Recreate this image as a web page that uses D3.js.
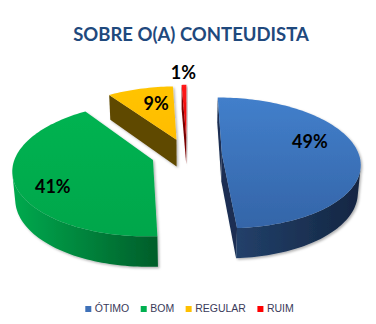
<!DOCTYPE html>
<html><head><meta charset="utf-8">
<script src="https://cdn.jsdelivr.net/npm/d3@7"></script>
<style>html,body{margin:0;padding:0;background:#fff;} svg{display:block}</style>
</head><body><svg id="c" width="376" height="324"></svg>
<script>
// ---- data ----
const categories = ["ÓTIMO", "BOM", "REGULAR", "RUIM"];
const values = [49, 41.3, 9, 0.65];
const chartTitle = "SOBRE O(A) CONTEUDISTA";

// ---- styles / layout ----
const legendColors = ["#3F71B8", "#00B050", "#FFC000", "#FF0000"];
const topColors = [["#427FCB", "#3465A8"], ["#00B351", "#00A64B"], ["#FFC400", "#FFBC00"], ["#FF1A1A", "#E00000"]];
const wallColors = [["#22406A", "#142642"], ["#00AA4E", "#005D2A"], ["#6E5400", "#5A4400"], ["#A00000", "#700000"]];
const radialColors = ["#1A2F52", "#007E3A", "#5F4800", "#7A0000"];
const explode = [0.255, 0.26, 0.25, 0.27];
const labelLayout = [{r: 0.70, da: -15.5}, {r: 0.77, da: -10}, {r: 0.67, da: 3.6}, {r: 1.28, da: 0}];

const svg = d3.select("#c");
const defs = svg.append("defs");
const f = defs.append("filter").attr("id", "sh").attr("x", "-10%").attr("y", "-10%").attr("width", "130%").attr("height", "130%");
f.append("feDropShadow").attr("dx", 1.5).attr("dy", 1.5).attr("stdDeviation", 1.3).attr("flood-color", "#000").attr("flood-opacity", 0.3);

// 3D projection
const cx = 187, cy = 154.5, S = 137, phi = 28 * Math.PI / 180, Dist = 6.5, T = 0.23;
const sp = Math.sin(phi), cp = Math.cos(phi);
function proj(x, y, h) {
  const u = y * sp + h * cp, w = -y * cp + h * sp, s = Dist / (Dist - w);
  return [cx + S * x * s, cy - S * u * s];
}
const cam = [0, -Dist * cp, Dist * sp];
const line = d3.line().x(d => d[0]).y(d => d[1]);

const pie = d3.pie().sort(null).value(d => d).startAngle(0).endAngle(2 * Math.PI);
const arcs = pie(values);
const total = d3.sum(values);
const pct = d3.format(".0%");

const slices = arcs.map((a, i) => {
  const m = (a.startAngle + a.endAngle) / 2;
  const e = explode[i];
  return {i, a0: a.startAngle, a1: a.endAngle, m, ox: e * Math.sin(m), oy: e * Math.cos(m), v: a.value};
});

// gradients
slices.forEach(s => {
  const g1 = defs.append("linearGradient").attr("id", "top" + s.i).attr("x1", 0).attr("y1", 0).attr("x2", 0).attr("y2", 1);
  g1.append("stop").attr("offset", 0).attr("stop-color", topColors[s.i][0]);
  g1.append("stop").attr("offset", 1).attr("stop-color", topColors[s.i][1]);
  const g2 = defs.append("linearGradient").attr("id", "wall" + s.i).attr("x1", 0).attr("y1", 0).attr("x2", 1).attr("y2", 0);
  g2.append("stop").attr("offset", 0).attr("stop-color", wallColors[s.i][0]);
  g2.append("stop").attr("offset", 1).attr("stop-color", wallColors[s.i][1]);
});

// draw order: farther slices first
const order = slices.slice().sort((p, q) => q.oy - p.oy);
const g = svg.append("g");
order.forEach(s => {
  const sg = g.append("g").attr("filter", "url(#sh)");
  const rim = (t, h) => proj(s.ox + Math.sin(t), s.oy + Math.cos(t), h);
  const n = Math.max(3, Math.ceil((s.a1 - s.a0) / (Math.PI / 120)));
  const ts = d3.range(n + 1).map(k => s.a0 + (s.a1 - s.a0) * k / n);
  // radial walls
  const dStart = (-Math.cos(s.a0)) * (0 - s.ox) + Math.sin(s.a0) * (cam[1] - s.oy);
  const dEnd = (Math.cos(s.a1)) * (0 - s.ox) - Math.sin(s.a1) * (cam[1] - s.oy);
  [[s.a0, dStart], [s.a1, dEnd]].forEach(([t, d]) => {
    if (d > 0) {
      const pts = [proj(s.ox, s.oy, 0), rim(t, 0), rim(t, -T), proj(s.ox, s.oy, -T)];
      sg.append("path").attr("d", line(pts) + "Z").attr("fill", radialColors[s.i]);
    }
  });
  // outer wall (visible runs)
  const vis = t => -Dist * cp * Math.cos(t) - (s.ox * Math.sin(t) + s.oy * Math.cos(t)) - 1 > 0;
  let runs = [], cur = [];
  ts.forEach(t => { if (vis(t)) cur.push(t); else { if (cur.length > 1) runs.push(cur); cur = []; } });
  if (cur.length > 1) runs.push(cur);
  runs.forEach(r => {
    const pts = r.map(t => rim(t, 0)).concat(r.slice().reverse().map(t => rim(t, -T)));
    sg.append("path").attr("d", line(pts) + "Z").attr("fill", "url(#wall" + s.i + ")");
  });
  // top face
  const topPts = [proj(s.ox, s.oy, 0)].concat(ts.map(t => rim(t, 0)));
  sg.append("path").attr("d", line(topPts) + "Z").attr("fill", "url(#top" + s.i + ")");
});

// value labels
slices.forEach(s => {
  const L = labelLayout[s.i];
  const t = s.m + L.da * Math.PI / 180;
  const p = proj(s.ox + L.r * Math.sin(t), s.oy + L.r * Math.cos(t), 0);
  svg.append("text").attr("x", p[0]).attr("y", p[1]).attr("dy", "0.36em")
    .attr("text-anchor", "middle").attr("font-family", "Lato, 'Open Sans', sans-serif")
    .attr("font-weight", "bold").attr("font-size", 18).attr("fill", "#000")
    .text(pct(s.v / total));
});

// title
const tt = svg.append("text").attr("x", 191).attr("y", 41).attr("text-anchor", "middle")
  .attr("font-family", "Lato, 'Open Sans', sans-serif").attr("font-weight", "bold")
  .attr("font-size", 18.5).attr("fill", "#1F497D").text(chartTitle);
const tw = tt.node().getComputedTextLength();
if (Math.abs(tw - 230) > 6) tt.attr("textLength", 230).attr("lengthAdjust", "spacingAndGlyphs");

// legend
const lg = svg.append("g");
let lx = 0;
categories.forEach((c, i) => {
  const it = lg.append("g");
  it.append("rect").attr("x", 0).attr("y", -6).attr("width", 6).attr("height", 6).attr("fill", legendColors[i]);
  const tx = it.append("text").attr("x", 9.5).attr("y", 0).attr("font-family", "'Liberation Sans', Arial, sans-serif")
    .attr("font-size", 10.5).attr("fill", "#3A3A5A").text(c);
  const w = 9.5 + tx.node().getComputedTextLength();
  it.attr("transform", `translate(${lx},0)`);
  lx += w + 11.5;
});
const lw = lx - 11.5;
lg.attr("transform", `translate(${(189.5 - lw / 2).toFixed(1)},312)`);
</script></body></html>
